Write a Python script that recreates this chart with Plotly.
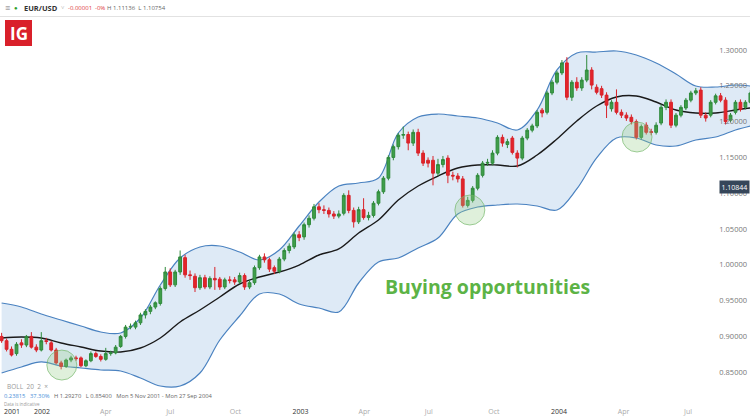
import pandas as pd
import plotly.graph_objects as go

# ---------------- data (weekly EUR/USD, Mon 5 Nov 2001 - Mon 27 Sep 2004) ----------------
START = "2001-11-05"

opens = [0.900,0.894,0.882,0.876,0.891,0.888,0.900,0.885,0.881,0.894,
         0.891,0.881,0.863,0.858,0.867,0.870,0.870,0.859,0.866,0.876,
         0.872,0.868,0.876,0.877,0.886,0.900,0.913,0.913,0.919,0.930,
         0.935,0.941,0.946,0.967,0.990,0.972,0.990,1.010,0.986,0.984,
         0.968,0.982,0.969,0.981,0.980,0.969,0.979,0.979,0.976,0.985,
         0.969,0.975,0.996,1.011,1.007,0.996,0.991,1.008,1.020,1.025,
         1.042,1.039,1.056,1.065,1.081,1.077,1.076,1.071,1.068,1.072,
         1.097,1.076,1.060,1.077,1.066,1.069,1.086,1.102,1.121,1.150,
         1.165,1.181,1.182,1.170,1.185,1.156,1.146,1.146,1.128,1.140,
         1.149,1.125,1.124,1.120,1.083,1.090,1.107,1.125,1.142,1.142,
         1.156,1.178,1.168,1.177,1.156,1.149,1.177,1.188,1.194,1.216,
         1.213,1.240,1.255,1.268,1.282,1.234,1.255,1.247,1.258,1.272,
         1.248,1.246,1.237,1.218,1.227,1.213,1.209,1.206,1.200,1.178,
         1.195,1.186,1.185,1.198,1.220,1.227,1.195,1.209,1.219,1.230,
         1.240,1.244,1.209,1.209,1.227,1.236,1.230,1.202,1.213,1.227,
         1.220,1.227]
highs = [0.905,0.897,0.886,0.892,0.896,0.902,0.906,0.889,0.906,0.898,
         0.894,0.884,0.866,0.869,0.873,0.873,0.872,0.868,0.879,0.879,
         0.875,0.884,0.880,0.888,0.902,0.916,0.918,0.922,0.933,0.938,
         0.944,0.949,0.970,0.997,0.995,0.993,1.020,1.014,0.992,0.988,
         0.986,0.986,0.984,0.997,0.983,0.982,0.984,0.983,0.989,0.988,
         0.979,0.999,1.014,1.016,1.010,0.999,1.011,1.023,1.030,1.045,
         1.047,1.059,1.069,1.085,1.086,1.083,1.080,1.075,1.076,1.100,
         1.104,1.080,1.081,1.093,1.074,1.089,1.105,1.124,1.153,1.168,
         1.184,1.193,1.186,1.189,1.190,1.160,1.150,1.152,1.148,1.152,
         1.153,1.130,1.128,1.124,1.095,1.110,1.128,1.145,1.148,1.160,
         1.181,1.182,1.176,1.180,1.160,1.180,1.191,1.197,1.216,1.219,
         1.243,1.258,1.271,1.286,1.290,1.258,1.262,1.262,1.293,1.276,
         1.252,1.250,1.241,1.230,1.245,1.217,1.213,1.210,1.203,1.196,
         1.199,1.190,1.199,1.224,1.231,1.231,1.212,1.223,1.233,1.243,
         1.247,1.248,1.213,1.230,1.239,1.240,1.234,1.212,1.230,1.231,
         1.230,1.244]
lows = [0.891,0.879,0.872,0.873,0.884,0.885,0.883,0.878,0.879,0.889,
        0.879,0.861,0.854,0.856,0.864,0.866,0.857,0.857,0.864,0.870,
        0.865,0.866,0.873,0.875,0.884,0.897,0.910,0.910,0.916,0.925,
        0.931,0.938,0.943,0.964,0.969,0.969,0.986,0.982,0.979,0.962,
        0.965,0.966,0.966,0.965,0.965,0.966,0.974,0.972,0.973,0.965,
        0.966,0.972,0.993,1.003,0.990,0.987,0.988,1.005,1.016,1.022,
        1.033,1.035,1.052,1.062,1.072,1.071,1.066,1.064,1.065,1.069,
        1.072,1.052,1.057,1.063,1.062,1.066,1.083,1.099,1.118,1.146,
        1.161,1.176,1.160,1.166,1.152,1.138,1.136,1.111,1.124,1.136,
        1.114,1.118,1.115,1.080,1.080,1.087,1.104,1.122,1.138,1.139,
        1.153,1.165,1.163,1.154,1.136,1.146,1.174,1.185,1.191,1.206,
        1.210,1.237,1.252,1.265,1.230,1.229,1.243,1.243,1.255,1.245,
        1.238,1.233,1.205,1.214,1.210,1.205,1.201,1.196,1.175,1.175,
        1.182,1.181,1.182,1.195,1.216,1.191,1.192,1.206,1.216,1.227,
        1.237,1.205,1.200,1.206,1.224,1.227,1.196,1.199,1.210,1.214,
        1.217,1.224]
closes = [0.894,0.882,0.874,0.889,0.888,0.900,0.885,0.881,0.894,0.893,
          0.881,0.863,0.858,0.867,0.870,0.869,0.859,0.866,0.876,0.872,
          0.868,0.876,0.877,0.885,0.900,0.913,0.914,0.919,0.930,0.935,
          0.941,0.947,0.967,0.990,0.972,0.990,1.011,0.986,0.985,0.968,
          0.982,0.969,0.981,0.979,0.969,0.979,0.978,0.976,0.985,0.969,
          0.975,0.996,1.011,1.007,0.994,0.991,1.008,1.020,1.026,1.042,
          1.038,1.056,1.065,1.081,1.077,1.076,1.071,1.068,1.071,1.097,
          1.076,1.060,1.077,1.066,1.069,1.086,1.102,1.121,1.150,1.165,
          1.181,1.182,1.170,1.185,1.156,1.142,1.142,1.128,1.140,1.147,
          1.125,1.124,1.120,1.083,1.090,1.107,1.125,1.142,1.143,1.156,
          1.178,1.170,1.172,1.157,1.149,1.177,1.188,1.194,1.213,1.212,
          1.240,1.255,1.268,1.282,1.234,1.255,1.247,1.258,1.272,1.251,
          1.241,1.237,1.223,1.227,1.213,1.209,1.205,1.200,1.178,1.193,
          1.185,1.185,1.195,1.220,1.227,1.195,1.209,1.220,1.230,1.240,
          1.243,1.209,1.205,1.227,1.236,1.230,1.200,1.209,1.227,1.217,
          1.227,1.240]

# Bollinger (20, 2) every 4th week (+ last week)
boll_upper = [0.9467,0.9411,0.9313,0.9229,0.9145,0.9062,0.9048,0.9257,0.9718,1.0095,
              1.0249,1.0263,1.0179,1.0067,1.0207,1.0542,1.0877,1.1101,1.1143,1.1212,
              1.1841,1.2064,1.2106,1.2078,1.2050,1.1980,1.1883,1.2162,1.2721,1.2958,
              1.2972,1.2986,1.2930,1.2818,1.2665,1.2497,1.2483,1.2511,1.2497]
boll_mid = [0.8978,0.8992,0.8978,0.8908,0.8852,0.8796,0.8782,0.8838,0.8978,0.9201,
            0.9369,0.9550,0.9732,0.9830,0.9900,0.9997,1.0137,1.0221,1.0444,1.0626,
            1.0905,1.1101,1.1240,1.1352,1.1394,1.1394,1.1380,1.1534,1.1757,1.2008,
            1.2218,1.2344,1.2358,1.2274,1.2162,1.2120,1.2120,1.2162,1.2190]
boll_lower = [0.8489,0.8573,0.8643,0.8587,0.8559,0.8531,0.8517,0.8419,0.8307,0.8307,
              0.8489,0.8950,0.9285,0.9592,0.9592,0.9453,0.9397,0.9341,0.9746,1.0039,
              1.0095,1.0235,1.0374,1.0710,1.0807,1.0835,1.0849,1.0821,1.0765,1.1059,
              1.1492,1.1771,1.1771,1.1673,1.1659,1.1743,1.1785,1.1883,1.1939]

tick_dates = ["2002-01-01","2002-04-01","2002-07-01","2002-10-01","2003-01-01","2003-04-01",
              "2003-07-01","2003-10-01","2004-01-01","2004-04-01","2004-07-01"]
tick_text = ["2002","Apr","Jul","Oct","2003","Apr","Jul","Oct","2004","Apr","Jul"]
price_ticks = [0.85,0.90,0.95,1.00,1.05,1.10,1.15,1.20,1.25,1.30]

# buying-opportunity markers (date, price)
buy_dates = ["2002-01-29","2003-08-28","2004-04-20"]
buy_prices = [0.860,1.0765,1.1785]

# ---------------- figure ----------------
weeks = pd.date_range(START, periods=len(closes), freq="7D")
band_idx = list(range(0, len(closes), 4)) + [len(closes) - 1]
band_dates = [weeks[i] for i in band_idx]

W, H = 750, 418
TOP, BOT = 18, 403
FONT = "Open Sans"
XR = ["2001-11-02 17:00", "2004-09-26 12:00"]
YR = [0.807, 1.3447]

def px(x):
    return x / W

def py(y):
    return (BOT - y) / (BOT - TOP)

fig = go.Figure()
fig.add_trace(go.Scatter(x=band_dates, y=boll_lower, mode="lines",
                         line=dict(color="#4a82c0", width=1.2, shape="spline"),
                         hoverinfo="skip", showlegend=False))
fig.add_trace(go.Scatter(x=band_dates, y=boll_upper, mode="lines", fill="tonexty",
                         fillcolor="#deeaf6",
                         line=dict(color="#4a82c0", width=1.2, shape="spline"),
                         hoverinfo="skip", showlegend=False))
fig.add_trace(go.Scatter(x=band_dates, y=boll_mid, mode="lines",
                         line=dict(color="#1a1a1a", width=1.4, shape="spline"),
                         hoverinfo="skip", showlegend=False))
# candles on an overlaying subplot so they are drawn above the band fill
fig.add_trace(go.Candlestick(
    x=weeks, open=opens, high=highs, low=lows, close=closes,
    xaxis="x2", yaxis="y2",
    increasing=dict(fillcolor="#3f9e4a", line=dict(color="#2f8a3b", width=1)),
    decreasing=dict(fillcolor="#e3242b", line=dict(color="#d8232a", width=1)),
    showlegend=False))

shapes = []
for d, p in zip(buy_dates, buy_prices):
    shapes.append(dict(type="circle", xref="x", yref="y", xsizemode="pixel", ysizemode="pixel",
                       xanchor=d, yanchor=p, x0=-15, x1=15, y0=-15, y1=15,
                       fillcolor="rgba(150,205,135,0.30)",
                       line=dict(color="rgba(110,180,100,0.65)", width=1)))
shapes.append(dict(type="line", xref="paper", yref="paper", x0=0, x1=1, y0=py(16.5), y1=py(16.5),
                   line=dict(color="#e2e2e2", width=1)))
shapes.append(dict(type="rect", xref="paper", yref="paper", x0=px(5), x1=px(32), y0=py(46), y1=py(20),
                   fillcolor="#d9202a", line=dict(width=0)))

ann = []
def text(x, y, s, size=7, color="#555", anchor="left", bold=False, **kw):
    ann.append(dict(xref="paper", yref="paper", x=px(x), y=py(y), text=("<b>%s</b>" % s) if bold else s,
                    showarrow=False, xanchor=anchor, yanchor="middle",
                    font=dict(family=FONT, size=size, color=color), **kw))

text(3, 8, "≡", size=9, color="#777")
text(12, 8, "●", size=6, color="#2ca02c")
text(22, 8, "EUR/USD", size=7.5, color="#333", bold=True)
text(59, 8, "˅", size=6, color="#999")
text(66, 8, "-0.00001", size=6, color="#e0393e")
text(93, 8, "-0%", size=6, color="#e0393e")
text(105, 8, "H 1.11136  L 1.10754", size=6, color="#666")
text(18.5, 33, "IG", size=17, color="white", anchor="center", bold=True)

text(487, 286, "Buying opportunities", size=19.5, color="#5cb346", anchor="center", bold=True)

text(5, 386, "BOLL  20  2  ×", size=6.5, color="#999")
text(2, 396, "<span style='color:#4a90d9'>0.23815</span>   <span style='color:#4a90d9'>37.30%</span>"
             "   H 1.29270   L 0.85400   Mon 5 Nov 2001 - Mon 27 Sep 2004", size=5.8, color="#666")
text(2, 403.5, "Data is indicative", size=4.5, color="#999")
text(2, 412, "2001", size=7, color="#333")

ann.append(dict(xref="paper", yref="y", x=1.0, y=1.10844, text="1.10844", showarrow=False,
                xanchor="right", yanchor="middle", bgcolor="#36465a", borderpad=1.5,
                font=dict(family=FONT, size=7, color="white")))

tick_colored = ["<span style='color:#333'>%s</span>" % t if t.isdigit() else t for t in tick_text]

fig.update_layout(
    width=W, height=H,
    margin=dict(l=0, r=0, t=TOP, b=H - BOT, pad=0),
    paper_bgcolor="white", plot_bgcolor="white",
    showlegend=False,
    boxgap=0.2,
    shapes=shapes, annotations=ann,
    font=dict(family=FONT),
    xaxis=dict(type="date", range=XR,
               tickvals=tick_dates, ticktext=tick_colored,
               tickfont=dict(size=7, color="#aaa", family=FONT), ticklabelstandoff=3,
               showgrid=False, zeroline=False, showline=False, ticks="",
               rangeslider=dict(visible=False), fixedrange=True),
    xaxis2=dict(type="date", range=XR, overlaying="x", visible=False,
                rangeslider=dict(visible=False), fixedrange=True),
    yaxis=dict(side="right", range=YR, tickvals=price_ticks, tickformat=".5f",
               ticklabelposition="inside", tickfont=dict(size=7.5, color="#777", family=FONT),
               showgrid=False, zeroline=False, showline=False, ticks="",
               layer="above traces", fixedrange=True),
    yaxis2=dict(range=YR, overlaying="y", visible=False, fixedrange=True),
)

fig.write_html("out.html")
